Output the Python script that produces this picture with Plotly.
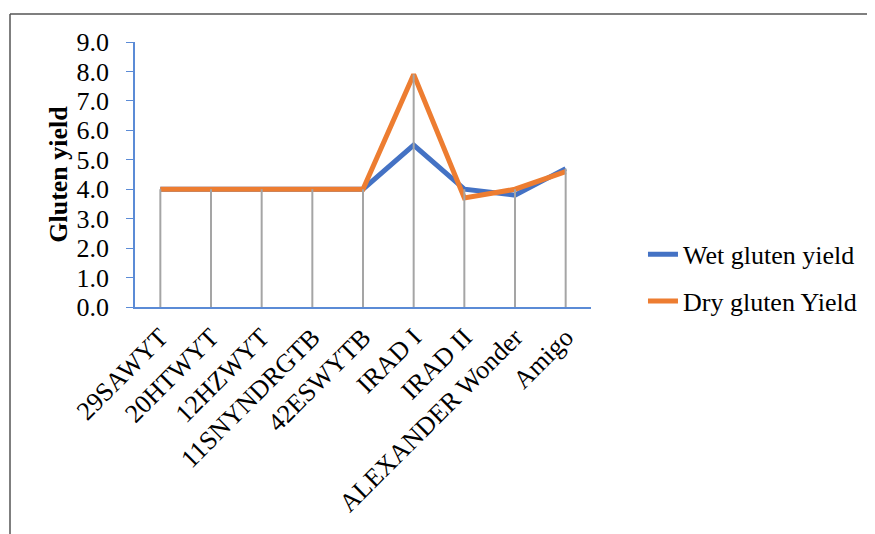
import plotly.graph_objects as go

categories = ["29SAWYT", "20HTWYT", "12HZWYT", "11SNYNDRGTB", "42ESWYTB",
              "IRAD I", "IRAD II", "ALEXANDER Wonder", "Amigo"]
wet = [4.0, 4.0, 4.0, 4.0, 4.0, 5.5, 4.0, 3.8, 4.7]
dry = [4.0, 4.0, 4.0, 4.0, 4.0, 7.9, 3.7, 4.0, 4.6]
y_ticks = [0, 1, 2, 3, 4, 5, 6, 7, 8, 9]

FONT = "Liberation Serif"
fig = go.Figure()
fig.add_trace(go.Scatter(x=categories, y=wet, mode="lines", name="Wet gluten yield",
                         line=dict(color="#4472C4", width=5), legendgroup="a"))
fig.add_trace(go.Scatter(x=categories, y=dry, mode="lines", name="Dry gluten Yield",
                         line=dict(color="#ED7D31", width=5), legendgroup="b"))

# drop lines from 0 to the highest series value
dx, dy = [], []
for c, a, b in zip(categories, wet, dry):
    dx += [c, c, None]
    dy += [0, max(a, b), None]
fig.add_trace(go.Scatter(x=dx, y=dy, mode="lines", showlegend=False, hoverinfo="skip",
                         line=dict(color="#A5A5A5", width=2)))

bx0 = (2 - 127) / 456
by1 = (299 - 6) / 265
fig.update_layout(
    width=867, height=526,
    margin=dict(l=127, r=284, t=34, b=227),
    paper_bgcolor="white", plot_bgcolor="white",
    font=dict(family=FONT, size=26, color="black"),
    legend=dict(x=1.114, y=0.11, xanchor="left", yanchor="middle",
                font=dict(family=FONT, size=26), tracegroupgap=10,
                bgcolor="rgba(0,0,0,0)"),
    xaxis=dict(type="category", range=[-0.5, 8.5], showgrid=False,
               showline=True, linecolor="#5B8BD6", linewidth=1.5,
               ticks="", tickangle=-45, ticklabelstandoff=3,
               tickfont=dict(family=FONT, size=26)),
    yaxis=dict(range=[0, 9], tickvals=y_ticks, tickformat=".1f", showgrid=False,
               showline=True, linecolor="#5B8BD6", linewidth=1.5,
               ticks="outside", ticklen=7, tickcolor="#5B8BD6",
               ticklabelstandoff=12,
               tickfont=dict(family=FONT, size=26),
               title=dict(text="<b>Gluten yield</b>", font=dict(family=FONT, size=26),
                          standoff=1)),
    shapes=[
        dict(type="line", xref="paper", yref="paper", x0=bx0, x1=1.7, y0=by1, y1=by1,
             line=dict(color="#555555", width=1.5), layer="below"),
        dict(type="line", xref="paper", yref="paper", x0=bx0, x1=bx0, y0=by1, y1=-1.5,
             line=dict(color="#555555", width=1.5), layer="below"),
    ],
)
fig.write_html("out.html")
